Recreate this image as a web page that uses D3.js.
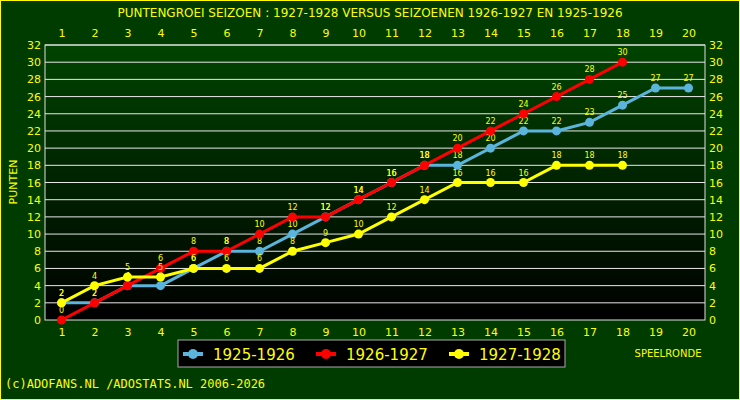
<!DOCTYPE html>
<html><head><meta charset="utf-8">
<script src="https://cdn.jsdelivr.net/npm/d3@7"></script>
<style>body{margin:0;background:#003c00}</style>
</head><body>
<svg id="chart" width="740" height="400"></svg>
<script>
const rounds = d3.range(1, 21);
const yTicks = d3.range(0, 33, 2);
const s1925 = [2,2,4,4,6,8,8,10,12,14,16,18,18,20,22,22,23,25,27,27];
const s1926 = [0,2,4,6,8,8,10,12,12,14,16,18,20,22,24,26,28,30];
const s1927 = [2,4,5,5,6,6,6,8,9,10,12,14,16,16,16,18,18,18];
const series = [
  {name: "1925-1926", values: s1925, color: "#5ab4dc"},
  {name: "1926-1927", values: s1926, color: "#ff0000"},
  {name: "1927-1928", values: s1927, color: "#ffff00"}
];

const svg = d3.select("#chart");
const font = "DejaVu Sans";
svg.append("rect").attr("x", 0.5).attr("y", 0.5).attr("width", 739).attr("height", 399)
  .attr("fill", "#003c00").attr("stroke", "#ffff00");

const defs = svg.append("defs");
const grad = defs.append("linearGradient").attr("id", "bg").attr("x1", 0).attr("y1", 0).attr("x2", 0).attr("y2", 1);
grad.append("stop").attr("offset", "0%").attr("stop-color", "#004400");
grad.append("stop").attr("offset", "100%").attr("stop-color", "#000000");

const pL = 45, pR = 705, pT = 45, pB = 320;
const x = d3.scaleLinear().domain([0.5, 20.5]).range([pL, pR]);
const y = d3.scaleLinear().domain([0, 32]).range([pB, pT]);

svg.append("rect").attr("x", pL).attr("y", pT).attr("width", pR - pL).attr("height", pB - pT)
  .attr("fill", "url(#bg)").attr("stroke", "#ddd");

svg.append("g").selectAll("line").data(yTicks.slice(1)).join("line")
  .attr("x1", pL).attr("x2", pR).attr("y1", d => y(d)).attr("y2", d => y(d))
  .attr("stroke", "#e8e8e8").attr("stroke-width", 1);

const styleAxis = g => {
  g.select(".domain").remove();
  g.selectAll(".tick line").remove();
  g.selectAll("text").attr("fill", "#ffff00").attr("font-family", font).attr("font-size", 11);
};
svg.append("g").attr("transform", `translate(0,${pB})`)
  .call(d3.axisBottom(x).tickValues(rounds).tickFormat(d3.format("d")).tickSize(0).tickPadding(8)).call(styleAxis);
svg.append("g").attr("transform", `translate(0,${pT})`)
  .call(d3.axisTop(x).tickValues(rounds).tickFormat(d3.format("d")).tickSize(0).tickPadding(8)).call(styleAxis);
svg.append("g").attr("transform", `translate(${pL},0)`)
  .call(d3.axisLeft(y).tickValues(yTicks).tickSize(0).tickPadding(4)).call(styleAxis);
svg.append("g").attr("transform", `translate(${pR},0)`)
  .call(d3.axisRight(y).tickValues(yTicks).tickSize(0).tickPadding(4)).call(styleAxis);

svg.append("text").attr("x", 370).attr("y", 17).attr("text-anchor", "middle")
  .attr("fill", "#ffff00").attr("font-family", font).attr("font-size", 12)
  .text("PUNTENGROEI  SEIZOEN : 1927-1928 VERSUS SEIZOENEN 1926-1927 EN 1925-1926");
svg.append("text").attr("transform", "translate(17,182) rotate(-90)").attr("text-anchor", "middle")
  .attr("fill", "#ffff00").attr("font-family", font).attr("font-size", 11).text("PUNTEN");
svg.append("text").attr("x", 668).attr("y", 357).attr("text-anchor", "middle")
  .attr("fill", "#ffff00").attr("font-family", font).attr("font-size", 10).text("SPEELRONDE");
svg.append("text").attr("x", 5).attr("y", 388)
  .attr("fill", "#ffff00").attr("font-family", "DejaVu Sans Mono").attr("font-size", 12)
  .text("(c)ADOFANS.NL /ADOSTATS.NL 2006-2026");

const line = d3.line().x((d, i) => x(i + 1)).y(d => y(d));
series.forEach(s => {
  const g = svg.append("g");
  g.append("path").datum(s.values).attr("d", line).attr("fill", "none")
    .attr("stroke", s.color).attr("stroke-width", 3);
  g.selectAll("circle").data(s.values).join("circle")
    .attr("cx", (d, i) => x(i + 1)).attr("cy", d => y(d)).attr("r", 4.5).attr("fill", s.color);
  g.selectAll("text").data(s.values).join("text")
    .attr("x", (d, i) => x(i + 1)).attr("y", d => y(d) - 7).attr("text-anchor", "middle")
    .attr("fill", "#ffff00").attr("font-family", font).attr("font-size", 8).text(d => d);
});

const lg = svg.append("g");
lg.append("rect").attr("x", 178).attr("y", 340).attr("width", 387).attr("height", 27)
  .attr("fill", "#000").attr("stroke", "#aaa");
series.forEach((s, i) => {
  const lx = 183 + i * 133;
  lg.append("line").attr("x1", lx).attr("x2", lx + 20).attr("y1", 354).attr("y2", 354)
    .attr("stroke", s.color).attr("stroke-width", 4);
  lg.append("circle").attr("cx", lx + 10).attr("cy", 354).attr("r", 5).attr("fill", s.color);
  lg.append("text").attr("x", lx + 30).attr("y", 360).attr("fill", "#ffff00")
    .attr("font-family", font).attr("font-size", 15).text(s.name);
});
</script>
</body></html>
